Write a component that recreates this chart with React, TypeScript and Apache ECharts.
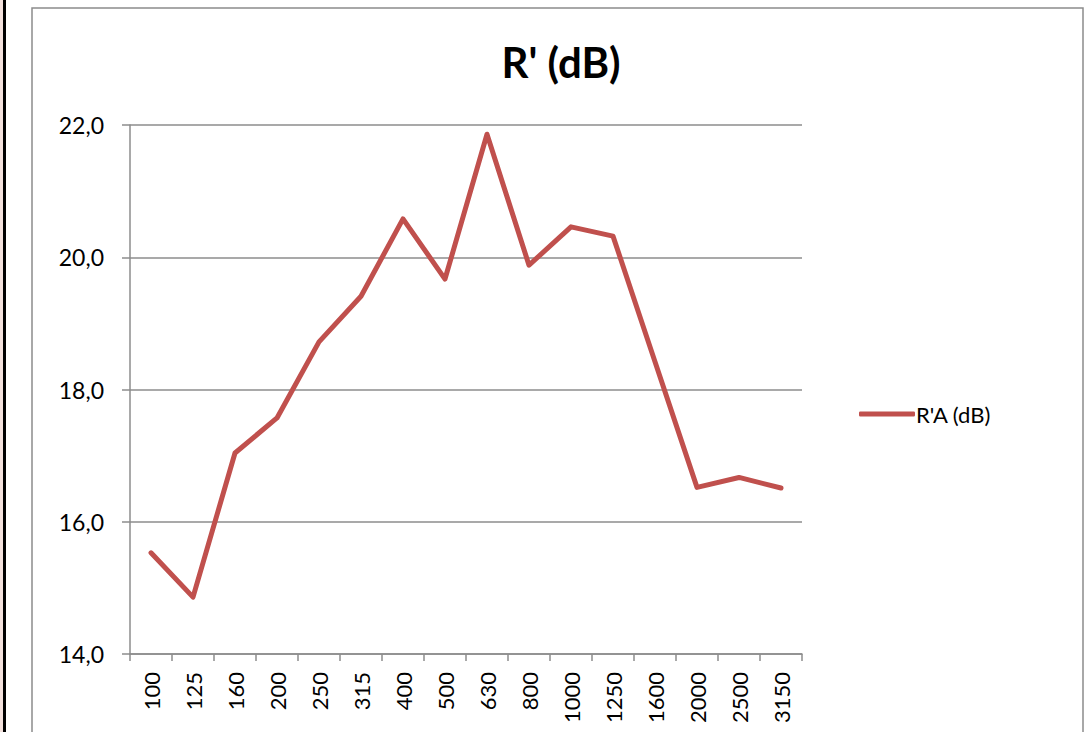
import React, { useEffect, useRef } from "react";
import * as echarts from "echarts";

const categories = ["100", "125", "160", "200", "250", "315", "400", "500", "630", "800", "1000", "1250", "1600", "2000", "2500", "3150"];
const seriesName = "R'A (dB)";
const values = [15.53, 14.86, 17.04, 17.57, 18.72, 19.41, 20.58, 19.67, 21.86, 19.88, 20.46, 20.32, 18.42, 16.52, 16.67, 16.51];
const titleText = "R' (dB)";

export default function App() {
  const ref = useRef<HTMLDivElement>(null);
  useEffect(() => {
    document.body.style.margin = "0";
    const chart = echarts.init(ref.current!, null, { renderer: "svg" });
    const font = "Lato, 'Open Sans', sans-serif";
    chart.setOption({
      animation: false,
      backgroundColor: "#ffffff",
      title: {
        text: titleText,
        left: 556,
        top: 36,
        textAlign: "center",
        textStyle: { fontFamily: font, fontWeight: "bold", fontSize: 42, color: "#000" },
      },
      graphic: [
        { type: "rect", shape: { x: 0, y: 0, width: 3, height: 732 }, style: { fill: "#f3e1dc" } },
        { type: "rect", shape: { x: 3, y: 0, width: 3, height: 732 }, style: { fill: "#000" } },
        {
          type: "rect",
          shape: { x: 32, y: 8, width: 1051, height: 740 },
          style: { fill: "none", stroke: "#8c8c8c", lineWidth: 1.5 },
        },
      ],
      legend: {
        left: 854,
        top: 398,
        itemWidth: 56,
        itemHeight: 5,
        icon: "roundRect",
        itemGap: 4,
        textStyle: { fontFamily: font, fontSize: 22, color: "#000", padding: [0, 0, 0, -4] },
        data: [{ name: seriesName }],
      },
      grid: { left: 130, right: 285, top: 125, bottom: 78, containLabel: false },
      xAxis: {
        type: "category",
        data: categories,
        boundaryGap: true,
        axisLine: { lineStyle: { color: "#8c8c8c", width: 1.5 } },
        axisTick: { show: true, alignWithLabel: false, length: 7, lineStyle: { color: "#8c8c8c", width: 1.5 } },
        axisLabel: {
          rotate: 90,
          interval: 0,
          margin: 18,
          fontFamily: font,
          fontSize: 22,
          color: "#000",
        },
      },
      yAxis: {
        type: "value",
        min: 14,
        max: 22,
        interval: 2,
        axisLine: { show: true, lineStyle: { color: "#8c8c8c", width: 1.5 } },
        axisTick: { show: true, length: 8, lineStyle: { color: "#8c8c8c", width: 1.5 } },
        splitLine: { show: true, lineStyle: { color: "#8c8c8c", width: 1.5 } },
        axisLabel: {
          margin: 26,
          fontFamily: font,
          fontSize: 23,
          color: "#000",
          formatter: (v: number) => v.toFixed(1).replace(".", ","),
        },
      },
      series: [
        {
          name: seriesName,
          type: "line",
          data: values,
          symbol: "none",
          lineStyle: { color: "#c0504d", width: 5, cap: "round", join: "round" },
          itemStyle: { color: "#c0504d" },
        },
      ],
    });
    return () => chart.dispose();
  }, []);
  return <div ref={ref} style={{ position: "absolute", left: 0, top: 0, width: 1087, height: 732 }} />;
}
